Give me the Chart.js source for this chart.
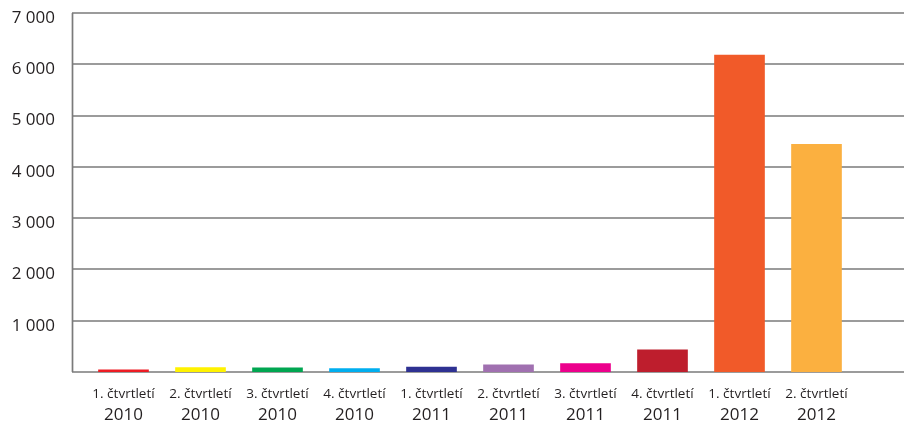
<!DOCTYPE html>
<html>
<head>
<meta charset="utf-8">
<script src="https://cdn.jsdelivr.net/npm/chart.js@4"></script>
<style>
  body { margin: 0; background: #fff; }
</style>
</head>
<body>
<canvas id="stage" width="904" height="422"></canvas>
<script>
// data
var quarters = ['1. čtvrtletí', '2. čtvrtletí', '3. čtvrtletí', '4. čtvrtletí', '1. čtvrtletí', '2. čtvrtletí', '3. čtvrtletí', '4. čtvrtletí', '1. čtvrtletí', '2. čtvrtletí'];
var years = ['2010', '2010', '2010', '2010', '2011', '2011', '2011', '2011', '2012', '2012'];
var values = [40, 85, 80, 65, 97, 142, 162, 430, 6180, 4438];
var barColors = ['#ed1c24', '#fff200', '#00a651', '#00aeef', '#2e3192', '#a070b0', '#ec008c', '#be1e2d', '#f15a29', '#fbb040'];

var yMax = 7000;
var yStep = 1000;

// gridlines run past the plot area on both sides
var gridLines = {
  id: 'gridLines',
  beforeDatasetsDraw: function(chart) {
    var ctx = chart.ctx;
    var y = chart.scales.y;
    ctx.save();
    ctx.strokeStyle = '#7a7a7a';
    ctx.lineWidth = 1.7;
    y.ticks.forEach(function(t) {
      var py = Math.round(y.getPixelForValue(t.value));
      ctx.beginPath();
      ctx.moveTo(72, py);
      ctx.lineTo(chart.width, py);
      ctx.stroke();
    });
    ctx.beginPath();
    ctx.moveTo(72.5, Math.round(y.getPixelForValue(yMax)));
    ctx.lineTo(72.5, Math.round(y.getPixelForValue(0)));
    ctx.stroke();
    ctx.restore();
  }
};

var canvas = document.getElementById('stage');
var chart = new Chart(canvas, {
  type: 'bar',
  data: {
    labels: quarters,
    datasets: [{
      data: values,
      backgroundColor: barColors,
      borderWidth: 0,
      barThickness: 50,
      xAxisID: 'x'
    }]
  },
  options: {
    responsive: false,
    animation: false,
    devicePixelRatio: 1,
    layout: { padding: { top: 13, right: 49, left: 0, bottom: 0 } },
    plugins: { legend: { display: false }, tooltip: { enabled: false } },
    scales: {
      y: {
        min: 0,
        max: yMax,
        afterFit: function(s) { s.width = 85; s.paddingTop = 8; s.paddingBottom = 0; },
        grid: { display: false, drawTicks: false },
        border: { display: false },
        ticks: {
          stepSize: yStep,
          padding: 30,
          labelOffset: 5,
          color: '#231f20',
          font: { family: 'Open Sans', size: 17 },
          callback: function(v) {
            if (v === 0) return '';
            return String(v).replace(/\B(?=(\d{3})+(?!\d))/g, ' ');
          }
        }
      },
      x: {
        afterFit: function(s) { s.height = 30; },
        grid: { display: false, drawTicks: false },
        border: { display: false },
        ticks: {
          padding: 14,
          maxRotation: 0,
          autoSkip: false,
          color: '#231f20',
          font: { family: 'Open Sans', size: 13.5 }
        }
      },
      x2: {
        type: 'category',
        labels: years,
        position: 'bottom',
        afterFit: function(s) { s.height = 20; },
        grid: { display: false, drawTicks: false },
        border: { display: false },
        ticks: {
          padding: 3,
          maxRotation: 0,
          autoSkip: false,
          color: '#231f20',
          font: { family: 'Open Sans', size: 17 }
        }
      }
    }
  },
  plugins: [gridLines]
});
</script>
</body>
</html>
